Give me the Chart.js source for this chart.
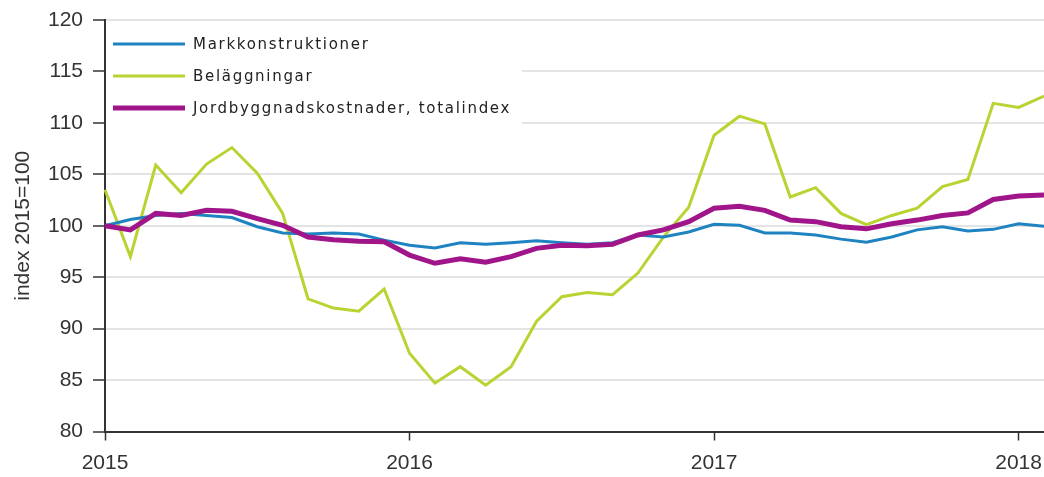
<!DOCTYPE html>
<html>
<head>
<meta charset="utf-8">
<script src="https://cdn.jsdelivr.net/npm/chart.js@4.4.1/dist/chart.umd.min.js"></script>
<style>
  html, body { margin: 0; padding: 0; background: #fff; }
  #wrap { width: 1044px; height: 477px; }
</style>
</head>
<body>
<div id="wrap"><canvas id="chart"></canvas></div>
<script>
// months Jan 2015 - Feb 2018
var months = [
  '2015-01','2015-02','2015-03','2015-04','2015-05','2015-06','2015-07','2015-08','2015-09','2015-10','2015-11','2015-12',
  '2016-01','2016-02','2016-03','2016-04','2016-05','2016-06','2016-07','2016-08','2016-09','2016-10','2016-11','2016-12',
  '2017-01','2017-02','2017-03','2017-04','2017-05','2017-06','2017-07','2017-08','2017-09','2017-10','2017-11','2017-12',
  '2018-01','2018-02'
];

var markkonstruktioner = [
  100.0, 100.6, 101.0, 101.2, 101.0, 100.8, 99.9, 99.3, 99.2, 99.3, 99.2, 98.6,
  98.1, 97.85, 98.35, 98.2, 98.35, 98.55, 98.35, 98.2, 98.35, 99.1, 98.9, 99.4,
  100.15, 100.05, 99.3, 99.3, 99.1, 98.7, 98.4, 98.9, 99.6, 99.9, 99.5, 99.65,
  100.2, 99.95
];

var belaggningar = [
  103.5, 97.0, 105.9, 103.2, 106.0, 107.6, 105.1, 101.2, 92.9, 92.0, 91.7, 93.85,
  87.6, 84.7, 86.3, 84.5, 86.3, 90.7, 93.1, 93.5, 93.3, 95.4, 98.9, 101.8,
  108.8, 110.65, 109.9, 102.8, 103.7, 101.2, 100.1, 101.0, 101.7, 103.8, 104.5, 111.9,
  111.5, 112.6
];

var totalindex = [
  100.0, 99.6, 101.2, 101.0, 101.5, 101.4, 100.7, 100.05, 98.9, 98.65, 98.5, 98.45,
  97.15, 96.35, 96.8, 96.45, 97.0, 97.8, 98.1, 98.05, 98.2, 99.1, 99.6, 100.4,
  101.7, 101.9, 101.5, 100.55, 100.4, 99.9, 99.7, 100.2, 100.55, 101.0, 101.25, 102.55,
  102.9, 103.0
];

var yTicksMin = 80;
var yTicksMax = 120;

// legend drawn inside the plot, on a white box over the gridlines
var insideLegend = {
  id: 'insideLegend',
  beforeDatasetsDraw: function(chart){
    var ctx = chart.ctx;
    var area = chart.chartArea;
    ctx.save();
    ctx.fillStyle = '#fff';
    ctx.fillRect(area.left + 1, 26, 416, 102);
    ctx.font = '15px "DejaVu Sans"';
    ctx.letterSpacing = '1.7px';
    ctx.textBaseline = 'middle';
    chart.data.datasets.forEach(function(ds, i){
      var y = 44 + i * 32;
      ctx.strokeStyle = ds.borderColor;
      ctx.lineWidth = ds.borderWidth;
      ctx.beginPath();
      ctx.moveTo(113, y);
      ctx.lineTo(185, y);
      ctx.stroke();
      ctx.fillStyle = '#222';
      ctx.fillText(ds.label, 193, y + 1);
    });
    ctx.restore();
  }
};

new Chart(document.getElementById('chart').getContext('2d'), {
  type: 'line',
  data: {
    labels: months,
    datasets: [
      { label: 'Markkonstruktioner', data: markkonstruktioner, borderColor: '#1f83c2', borderWidth: 3, order: 1 },
      { label: 'Beläggningar', data: belaggningar, borderColor: '#b8d433', borderWidth: 3, order: 2 },
      { label: 'Jordbyggnadskostnader, totalindex', data: totalindex, borderColor: '#a0158a', borderWidth: 5, order: 0 }
    ]
  },
  options: {
    responsive: true,
    maintainAspectRatio: false,
    animation: false,
    elements: {
      point: { radius: 0 },
      line: { tension: 0, borderCapStyle: 'butt', borderJoinStyle: 'miter' }
    },
    layout: { padding: { top: 20, right: 0, bottom: 0, left: 0 } },
    plugins: {
      legend: { display: false },
      tooltip: { enabled: false }
    },
    scales: {
      x: {
        type: 'category',
        offset: false,
        grid: {
          drawOnChartArea: false,
          tickLength: 9,
          tickWidth: 1.5,
          tickColor: function(c){ return c.index % 12 === 0 ? '#333' : 'rgba(0,0,0,0)'; }
        },
        border: { color: '#333', width: 2 },
        ticks: {
          autoSkip: false,
          maxRotation: 0,
          padding: 10,
          color: '#333',
          font: { family: '"Liberation Sans", Arial', size: 21 },
          callback: function(v, i){
            var m = months[i];
            return m.slice(5) === '01' ? m.slice(0, 4) : '';
          }
        },
        // last point sits on the right edge, no extra room for labels
        afterFit: function(s){ s.height = 45.5; s.paddingLeft = 0; s.paddingRight = 0; }
      },
      y: {
        min: yTicksMin,
        max: yTicksMax,
        ticks: {
          stepSize: 5,
          padding: 10,
          color: '#333',
          font: { family: '"Liberation Sans", Arial', size: 21 }
        },
        grid: {
          color: '#e4e4e4',
          lineWidth: 2,
          tickColor: '#333',
          tickLength: 12,
          tickWidth: 1.5
        },
        border: { color: '#333', width: 2 },
        title: {
          display: true,
          text: 'index 2015=100',
          color: '#333',
          font: { family: '"Liberation Sans", Arial', size: 21 },
          padding: { top: 11, bottom: 0 }
        },
        afterFit: function(s){ s.width = 105; s.paddingTop = 0; s.paddingBottom = 0; }
      }
    }
  },
  plugins: [insideLegend]
});
</script>
</body>
</html>
